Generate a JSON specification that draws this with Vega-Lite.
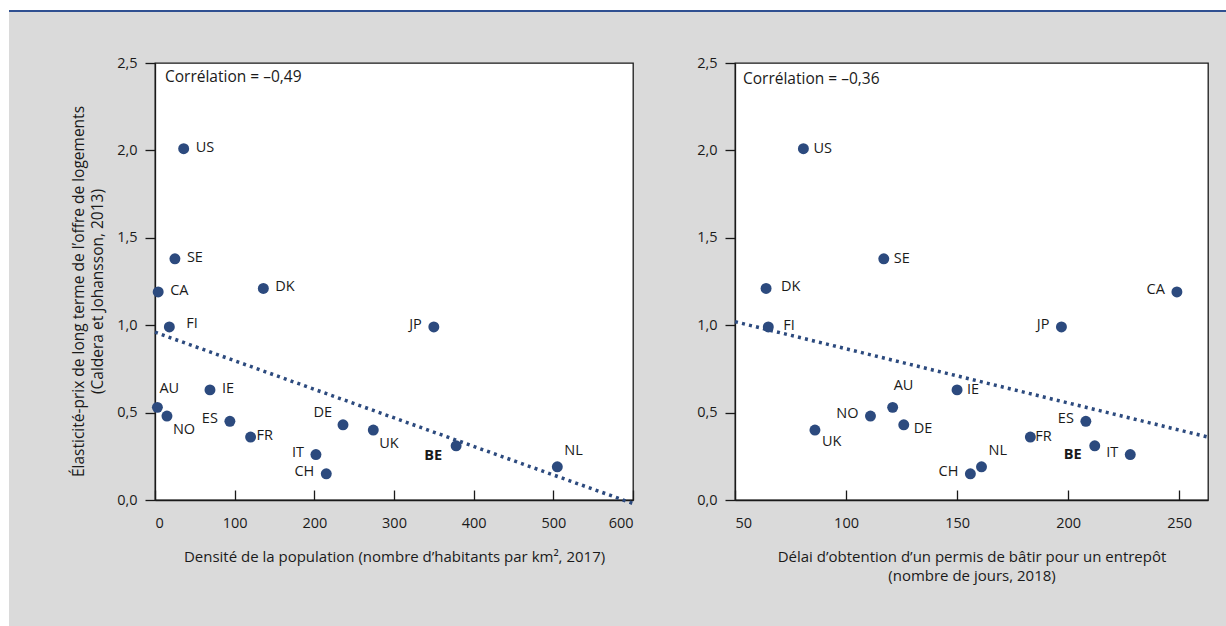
{
  "$schema": "https://vega.github.io/schema/vega-lite/v6.json",
  "background": "#dadada",
  "padding": 0,
  "config": {
    "font": "Open Sans",
    "locale": {"number": {"decimal": ",", "thousands": "\u00a0", "grouping": [3], "currency": ["", "\u00a0€"]}},
    "axis": {"grid": false, "labelFontSize": 14.5, "titleFontSize": 15, "titleFontWeight": "normal", "labelColor": "#1a1a1a", "titleColor": "#1a1a1a", "tickColor": "#1a1a1a", "domainColor": "#1a1a1a", "domainWidth": 1.3, "tickWidth": 1.3},
    "text": {"fontSize": 14.5, "color": "#1a1a1a"}
  },
  "datasets": {
    "blank": [{"k": 1}],
    "pts": [
      {"country": "US", "densite": 36, "delai": 80.8, "elasticite": 2.01},
      {"country": "SE", "densite": 25, "delai": 117, "elasticite": 1.38},
      {"country": "DK", "densite": 136, "delai": 64, "elasticite": 1.21},
      {"country": "CA", "densite": 4, "delai": 249, "elasticite": 1.19},
      {"country": "FI", "densite": 18, "delai": 65, "elasticite": 0.99},
      {"country": "JP", "densite": 350, "delai": 197, "elasticite": 0.99},
      {"country": "IE", "densite": 69, "delai": 150, "elasticite": 0.63},
      {"country": "AU", "densite": 3, "delai": 121, "elasticite": 0.53},
      {"country": "NO", "densite": 15, "delai": 111, "elasticite": 0.48},
      {"country": "ES", "densite": 94, "delai": 208, "elasticite": 0.45},
      {"country": "DE", "densite": 236, "delai": 126, "elasticite": 0.43},
      {"country": "UK", "densite": 274, "delai": 86, "elasticite": 0.40},
      {"country": "FR", "densite": 120, "delai": 183, "elasticite": 0.36},
      {"country": "BE", "densite": 378, "delai": 212, "elasticite": 0.31},
      {"country": "IT", "densite": 202, "delai": 228, "elasticite": 0.26},
      {"country": "NL", "densite": 505, "delai": 161, "elasticite": 0.19},
      {"country": "CH", "densite": 215, "delai": 156, "elasticite": 0.15}
    ],
    "trend1": [{"densite": 0, "elasticite": 0.96}, {"densite": 600, "elasticite": -0.02}],
    "trend2": [{"delai": 50, "elasticite": 1.02}, {"delai": 263, "elasticite": 0.36}],
    "corr1": [{"label": "Corrélation = –0,49", "densite": 0, "elasticite": 2.5}],
    "corr2": [{"label": "Corrélation = –0,36", "delai": 50, "elasticite": 2.5}]
  },
  "hconcat": [
    {"width": 9, "height": 626, "view": {"fill": "white", "stroke": null}, "data": {"name": "blank"}, "mark": {"type": "point", "opacity": 0}},
    {
      "vconcat": [
        {"width": 1217, "height": 10, "view": {"fill": "white", "stroke": null}, "data": {"name": "blank"}, "mark": {"type": "point", "opacity": 0}},
        {"width": 1217, "height": 2, "view": {"fill": "#2f5091", "stroke": null}, "data": {"name": "blank"}, "mark": {"type": "point", "opacity": 0}},
        {"width": 1, "height": 50.5, "view": {"fill": null, "stroke": null}, "data": {"name": "blank"}, "mark": {"type": "point", "opacity": 0}},
        {
          "hconcat": [
            {"width": 146, "height": 1, "view": {"fill": null, "stroke": null}, "data": {"name": "blank"}, "mark": {"type": "point", "opacity": 0}},
            {
              "width": 478, "height": 437,
              "view": {"fill": "white", "stroke": "#1a1a1a", "strokeWidth": 1.3},
              "encoding": {
                "x": {"field": "densite", "type": "quantitative", "scale": {"domain": [0, 600], "nice": false, "zero": false},
                      "axis": {"values": [0, 100, 200, 300, 400, 500, 600], "format": "d", "tickSize": -10, "labelPadding": 26, "titlePadding": 20,
                               "title": "Densité de la population (nombre d’habitants par km², 2017)"}},
                "y": {"field": "elasticite", "type": "quantitative", "scale": {"domain": [0, 2.5], "nice": false},
                      "axis": {"values": [0, 0.5, 1, 1.5, 2, 2.5], "format": ".1f", "tickSize": 10, "labelPadding": 8, "titlePadding": 11, "titleLineHeight": 19.5, "titleFontSize": 15.5, "titleY": 228,
                               "title": ["Élasticité-prix de long terme de l’offre de logements", "(Caldera et Johansson, 2013)"]}}
              },
              "layer": [
                {"data": {"name": "trend1"}, "mark": {"type": "line", "color": "#2c4a7e", "strokeWidth": 3.5, "strokeDash": [3, 4.2], "strokeCap": "butt"}},
                {"data": {"name": "pts"}, "mark": {"type": "circle", "size": 120, "opacity": 1, "color": "#2c4a7e"}},
                {"data": {"name": "pts"}, "transform": [{"filter": {"field": "country", "oneOf": ["US", "SE", "CA", "DK", "IE"]}}], "mark": {"type": "text", "align": "left", "baseline": "middle", "dx": 12, "dy": -1}, "encoding": {"text": {"field": "country"}}},
                {"data": {"name": "pts"}, "transform": [{"filter": {"field": "country", "oneOf": ["FI"]}}], "mark": {"type": "text", "align": "left", "baseline": "middle", "dx": 17, "dy": -3}, "encoding": {"text": {"field": "country"}}},
                {"data": {"name": "pts"}, "transform": [{"filter": {"field": "country", "oneOf": ["FR"]}}], "mark": {"type": "text", "align": "left", "baseline": "middle", "dx": 6, "dy": -1}, "encoding": {"text": {"field": "country"}}},
                {"data": {"name": "pts"}, "transform": [{"filter": {"field": "country", "oneOf": ["JP", "ES", "IT", "CH"]}}], "mark": {"type": "text", "align": "right", "baseline": "middle", "dx": -12, "dy": -2}, "encoding": {"text": {"field": "country"}}},
                {"data": {"name": "pts"}, "transform": [{"filter": {"field": "country", "oneOf": ["AU"]}}], "mark": {"type": "text", "align": "left", "baseline": "middle", "dx": 2, "dy": -18}, "encoding": {"text": {"field": "country"}}},
                {"data": {"name": "pts"}, "transform": [{"filter": {"field": "country", "oneOf": ["NL"]}}], "mark": {"type": "text", "align": "left", "baseline": "middle", "dx": 7, "dy": -16}, "encoding": {"text": {"field": "country"}}},
                {"data": {"name": "pts"}, "transform": [{"filter": {"field": "country", "oneOf": ["NO", "UK"]}}], "mark": {"type": "text", "align": "left", "baseline": "middle", "dx": 6, "dy": 13.5}, "encoding": {"text": {"field": "country"}}},
                {"data": {"name": "pts"}, "transform": [{"filter": {"field": "country", "oneOf": ["DE"]}}], "mark": {"type": "text", "align": "right", "baseline": "middle", "dx": -11, "dy": -12}, "encoding": {"text": {"field": "country"}}},
                {"data": {"name": "pts"}, "transform": [{"filter": {"field": "country", "oneOf": ["BE"]}}], "mark": {"type": "text", "align": "right", "baseline": "middle", "dx": -14, "dy": 10, "fontWeight": "bold"}, "encoding": {"text": {"field": "country"}}},
                {"data": {"name": "corr1"}, "mark": {"type": "text", "align": "left", "baseline": "middle", "dx": 10, "dy": 14, "fontSize": 15.5}, "encoding": {"text": {"field": "label", "type": "nominal"}}}
              ]
            },
            {"width": 102, "height": 1, "view": {"fill": null, "stroke": null}, "data": {"name": "blank"}, "mark": {"type": "point", "opacity": 0}},
            {
              "width": 473, "height": 437,
              "view": {"fill": "white", "stroke": "#1a1a1a", "strokeWidth": 1.3},
              "encoding": {
                "x": {"field": "delai", "type": "quantitative", "scale": {"domain": [50, 263], "nice": false, "zero": false},
                      "axis": {"values": [50, 100, 150, 200, 250], "format": "d", "tickSize": -10, "labelPadding": 26, "titlePadding": 20, "titleLineHeight": 18.5,
                               "title": ["Délai d’obtention d’un permis de bâtir pour un entrepôt", "(nombre de jours, 2018)"]}},
                "y": {"field": "elasticite", "type": "quantitative", "scale": {"domain": [0, 2.5], "nice": false},
                      "axis": {"values": [0, 0.5, 1, 1.5, 2, 2.5], "format": ".1f", "tickSize": 10, "labelPadding": 8, "title": null}}
              },
              "layer": [
                {"data": {"name": "trend2"}, "mark": {"type": "line", "color": "#2c4a7e", "strokeWidth": 3.5, "strokeDash": [3, 4.2], "strokeCap": "butt"}},
                {"data": {"name": "pts"}, "mark": {"type": "circle", "size": 120, "opacity": 1, "color": "#2c4a7e"}},
                {"data": {"name": "pts"}, "transform": [{"filter": {"field": "country", "oneOf": ["US", "SE", "IE"]}}], "mark": {"type": "text", "align": "left", "baseline": "middle", "dx": 10, "dy": 0}, "encoding": {"text": {"field": "country"}}},
                {"data": {"name": "pts"}, "transform": [{"filter": {"field": "country", "oneOf": ["DE"]}}], "mark": {"type": "text", "align": "left", "baseline": "middle", "dx": 10, "dy": 4}, "encoding": {"text": {"field": "country"}}},
                {"data": {"name": "pts"}, "transform": [{"filter": {"field": "country", "oneOf": ["DK", "FI"]}}], "mark": {"type": "text", "align": "left", "baseline": "middle", "dx": 15, "dy": -1}, "encoding": {"text": {"field": "country"}}},
                {"data": {"name": "pts"}, "transform": [{"filter": {"field": "country", "oneOf": ["FR"]}}], "mark": {"type": "text", "align": "left", "baseline": "middle", "dx": 5, "dy": 0}, "encoding": {"text": {"field": "country"}}},
                {"data": {"name": "pts"}, "transform": [{"filter": {"field": "country", "oneOf": ["CA", "JP", "NO", "ES", "IT", "CH"]}}], "mark": {"type": "text", "align": "right", "baseline": "middle", "dx": -12, "dy": -2}, "encoding": {"text": {"field": "country"}}},
                {"data": {"name": "pts"}, "transform": [{"filter": {"field": "country", "oneOf": ["AU"]}}], "mark": {"type": "text", "align": "left", "baseline": "middle", "dx": 1, "dy": -21}, "encoding": {"text": {"field": "country"}}},
                {"data": {"name": "pts"}, "transform": [{"filter": {"field": "country", "oneOf": ["UK"]}}], "mark": {"type": "text", "align": "left", "baseline": "middle", "dx": 7, "dy": 12}, "encoding": {"text": {"field": "country"}}},
                {"data": {"name": "pts"}, "transform": [{"filter": {"field": "country", "oneOf": ["NL"]}}], "mark": {"type": "text", "align": "left", "baseline": "middle", "dx": 7, "dy": -16}, "encoding": {"text": {"field": "country"}}},
                {"data": {"name": "pts"}, "transform": [{"filter": {"field": "country", "oneOf": ["BE"]}}], "mark": {"type": "text", "align": "right", "baseline": "middle", "dx": -13, "dy": 9, "fontWeight": "bold"}, "encoding": {"text": {"field": "country"}}},
                {"data": {"name": "corr2"}, "mark": {"type": "text", "align": "left", "baseline": "middle", "dx": 8, "dy": 16, "fontSize": 15.5}, "encoding": {"text": {"field": "label", "type": "nominal"}}}
              ]
            }
          ],
          "spacing": 0, "bounds": "flush"
        }
      ],
      "spacing": 0, "bounds": "flush"
    }
  ],
  "spacing": 0, "bounds": "flush"
}
